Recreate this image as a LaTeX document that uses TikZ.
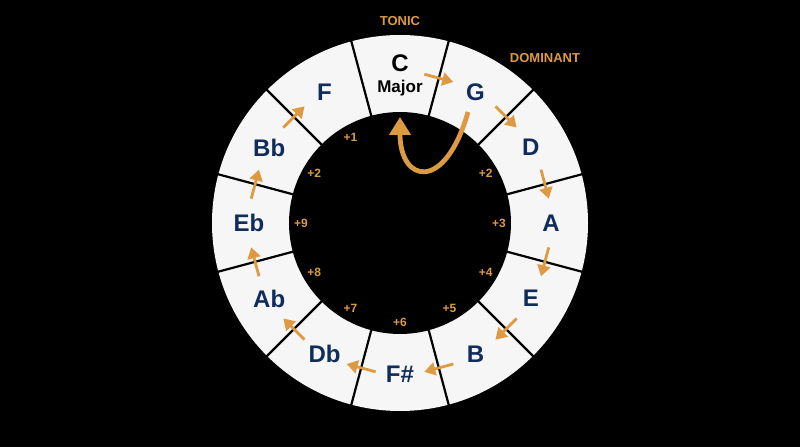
\documentclass[tikz,border=0pt]{standalone}
\usepackage{fontspec}
\setmainfont{Liberation Sans}
\usetikzlibrary{arrows.meta,calc}
\definecolor{ringwhite}{HTML}{F6F6F6}
\definecolor{navy}{HTML}{0F2C5B}
\definecolor{gold}{HTML}{DE9A42}
\begin{document}
\begin{tikzpicture}[x=1pt,y=1pt,
  note/.style={font=\bfseries\fontsize{24}{24}\selectfont, text=navy, inner sep=0pt},
  num/.style={font=\bfseries\fontsize{12}{12}\selectfont, text=gold, inner sep=0pt},
  lab/.style={font=\bfseries\fontsize{13}{13}\selectfont, text=gold, inner sep=0pt},
  stepar/.style={draw=gold, line width=2.8pt, -{Triangle[length=11pt,width=13pt]}},
  divider/.style={draw=black, line width=2.2pt},
  bigar/.style={draw=gold, line width=4.8pt, -{Triangle[length=18pt,width=21pt]}}]
\useasboundingbox[fill=black] (-400,-224) rectangle (400,223);
\fill[ringwhite] (0,0) circle (188);
\fill[black] (0,0) circle (111);
\foreach \a in {15,45,...,345} \draw[divider] (\a:110) -- (\a:189);
% notes
\node[note, text=black, anchor=base] (C) at (0,151) {C};
\node[font=\bfseries\fontsize{17}{17}\selectfont, anchor=base, inner sep=0pt] (Cmaj) at (0,130) {Major};
\node[note] (G) at (60:151) {G};
\node[note] (D) at (30:151) {D};
\node[note] (A) at (0:151) {A};
\node[note] (E) at (-30:151) {E};
\node[note] (B) at (-60:151) {B};
\node[note] (Fs) at (-90:151) {F\#};
\node[note] (Db) at (-120:151) {Db};
\node[note] (Ab) at (-150:151) {Ab};
\node[note] (Eb) at (180:151) {Eb};
\node[note] (Bb) at (150:151) {Bb};
\node[note] (F) at (120:151) {F};
% numbers
\foreach \a/\t [count=\i] in {120/+1,150/+2,180/+9,210/+8,240/+7,270/+6,300/+5,330/+4,0/+3,30/+2}
  \node[num] (n\i) at (\a:99) {\t};
% step arrows
\foreach \a [count=\i] in {75,45,15,-15,-45,-75,-105,-135,-165,-195,-225}{
  \coordinate (as\i) at ($(\a:150)+(\a+90:15)$);
  \coordinate (ae\i) at ($(\a:150)+(\a-90:15)$);
  \draw[stepar] (as\i) -- (ae\i);
}
% big return arrow
\coordinate (gstart) at (68,111);
\coordinate (ctip) at (0,106);
\draw[bigar] (gstart) .. controls (45,30) and (0,40) .. (ctip);
% labels
\node[lab] (tonic) at (0,202) {TONIC};
\node[lab] (dom) at (145,165) {DOMINANT};
\end{tikzpicture}
\end{document}
